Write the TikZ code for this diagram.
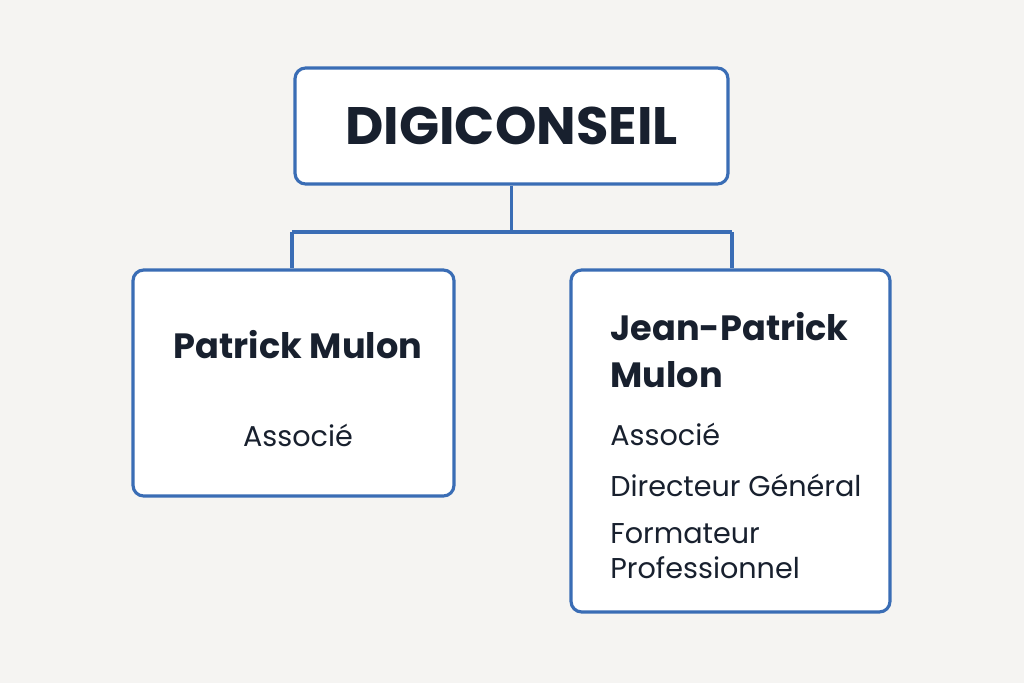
\documentclass[tikz,border=0pt]{standalone}
\usepackage{fontspec}
\setmainfont{Poppins}
\usetikzlibrary{positioning}
\definecolor{bgcol}{HTML}{F5F4F2}
\definecolor{framecol}{HTML}{3A6DB5}
\definecolor{inkcol}{HTML}{18202E}
\begin{document}
\begin{tikzpicture}[
        x=0.02cm, y=-0.02cm,
        card/.style={rectangle, draw=framecol, fill=white, line width=1.8pt, rounded corners=6pt, inner sep=0},
        link/.style={draw=framecol, line width=2pt},
        personname/.style={text=inkcol, font=\fontsize{20}{27}\selectfont\bfseries, inner sep=0},
        personrole/.style={text=inkcol, font=\fontsize{16.3}{20}\selectfont, inner sep=0}
    ]
        \fill[bgcol] (0,0) rectangle (1024,683);
        \useasboundingbox (0,0) rectangle (1024,683);

        % Cards
        \node[card, minimum width=8.66cm, minimum height=2.32cm] (top) at (511.5,126) {};
        \node[card, minimum width=6.42cm, minimum height=4.52cm] (left) at (293.5,383) {};
        \node[card, minimum width=6.38cm, minimum height=6.84cm] (right) at (730.5,441) {};

        % Texts
        \node[text=inkcol, font=\fontsize{30}{33}\selectfont\bfseries, inner sep=0] (title) at (top.center) {DIGICONSEIL};
        \node[personname] (leftname) at (298,345) {Patrick Mulon};
        \node[personrole] (leftrole) at (298,435) {Associé};
        \node[personname, anchor=west, align=left] (rightname) at (610,350) {Jean-Patrick\\Mulon};
        \node[personrole, anchor=west] (rightrole1) at (610,434) {Associé};
        \node[personrole, anchor=west] (rightrole2) at (610,485) {Directeur Général};
        \node[personrole, anchor=west, align=left] (rightrole3) at (610,551) {Formateur\\Professionnel};

        % Connectors
        \coordinate (hub) at (511.5,232);
        \coordinate (hubleft) at (292,232);
        \coordinate (hubright) at (732,232);
        \draw[link] (top.south) -- (hub);
        \draw[link] (hubleft) -- (hubright);
        \draw[link] (hubleft) -- (hubleft |- left.north);
        \draw[link] (hubright) -- (hubright |- right.north);
    \end{tikzpicture}
\end{document}
